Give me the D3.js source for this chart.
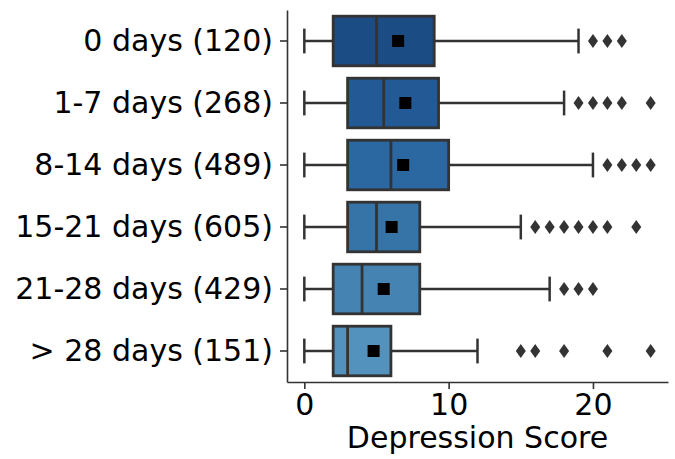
<!DOCTYPE html>
<html>
<head>
<meta charset="utf-8">
<script src="https://cdn.jsdelivr.net/npm/d3@7"></script>
<style>
  body { margin: 0; background: #fff; }
  text { font-family: "DejaVu Sans", sans-serif; fill: #000; }
</style>
</head>
<body>
<div id="chart"></div>
<script>
var categories = ["0 days (120)", "1-7 days (268)", "8-14 days (489)", "15-21 days (605)", "21-28 days (429)", "> 28 days (151)"];
var whiskerLow = [0, 0, 0, 0, 0, 0];
var q1 = [2, 3, 3, 3, 2, 2];
var medians = [5, 5.5, 6, 5, 4, 3];
var q3 = [9, 9.3, 10, 8, 8, 6];
var whiskerHigh = [19, 18, 20, 15, 17, 12];
var means = [6.5, 7.0, 6.85, 6.05, 5.5, 4.8];
var outliers = [
    [20, 21, 22],
    [19, 20, 21, 22, 24],
    [21, 22, 23, 24],
    [16, 17, 18, 19, 20, 21, 23],
    [18, 19, 20],
    [15, 16, 18, 21, 24]
];
var boxColors = ["#1c4c84", "#235a96", "#2b67a1", "#3674a8", "#4583b3", "#5292bd"];
var xTicks = [0, 10, 20];

var width = 675, height = 459;
var margin = {top: 10, right: 7, bottom: 77, left: 287};

var svg = d3.select("#chart").append("svg")
    .attr("width", width)
    .attr("height", height);

var x = d3.scaleLinear()
    .domain([-1.2, 25.2])
    .range([margin.left, width - margin.right]);

var y = d3.scaleBand()
    .domain(categories)
    .range([margin.top, height - margin.bottom])
    .paddingInner(0.2)
    .paddingOuter(0.1);

var stroke = "#333333";

// x axis
var xAxis = svg.append("g")
    .attr("transform", "translate(0," + (height - margin.bottom) + ")")
    .call(d3.axisBottom(x).tickValues(xTicks).tickSize(7).tickSizeOuter(0).tickPadding(5).tickFormat(d3.format("d")));
xAxis.selectAll("text").style("font-size", "30px").attr("dy", "0.71em");

// y axis
var yAxis = svg.append("g")
    .attr("transform", "translate(" + margin.left + ",0)")
    .call(d3.axisLeft(y).tickSize(7).tickSizeOuter(0).tickPadding(7));
yAxis.selectAll("text").style("font-size", "30px");

[xAxis, yAxis].forEach(function (g) {
    g.select(".domain").attr("stroke", stroke).attr("stroke-width", 1.6);
    g.selectAll(".tick line").attr("stroke", stroke).attr("stroke-width", 1.6);
});

svg.append("text")
    .attr("x", (margin.left + width - margin.right) / 2)
    .attr("y", 448)
    .attr("text-anchor", "middle")
    .style("font-size", "30px")
    .text("Depression Score");

var rows = categories.map(function (c, i) {
    return {cat: c, lo: whiskerLow[i], q1: q1[i], med: medians[i], q3: q3[i], hi: whiskerHigh[i], mean: means[i], out: outliers[i], color: boxColors[i]};
});

var bw = y.bandwidth();
var g = svg.selectAll(".box").data(rows).enter().append("g").attr("class", "box");

function cy(d) { return y(d.cat) + bw / 2; }

// whiskers
g.append("line")
    .attr("x1", function (d) { return x(d.lo); })
    .attr("x2", function (d) { return x(d.q1); })
    .attr("y1", cy).attr("y2", cy)
    .attr("stroke", stroke).attr("stroke-width", 2.5);
g.append("line")
    .attr("x1", function (d) { return x(d.q3); })
    .attr("x2", function (d) { return x(d.hi); })
    .attr("y1", cy).attr("y2", cy)
    .attr("stroke", stroke).attr("stroke-width", 2.5);

// caps
["lo", "hi"].forEach(function (k) {
    g.append("line")
        .attr("x1", function (d) { return x(d[k]); })
        .attr("x2", function (d) { return x(d[k]); })
        .attr("y1", function (d) { return cy(d) - bw / 4; })
        .attr("y2", function (d) { return cy(d) + bw / 4; })
        .attr("stroke", stroke).attr("stroke-width", 2.5);
});

// boxes
g.append("rect")
    .attr("x", function (d) { return x(d.q1); })
    .attr("y", function (d) { return y(d.cat); })
    .attr("width", function (d) { return x(d.q3) - x(d.q1); })
    .attr("height", bw)
    .attr("fill", function (d) { return d.color; })
    .attr("stroke", stroke).attr("stroke-width", 2.8);

// median
g.append("line")
    .attr("x1", function (d) { return x(d.med); })
    .attr("x2", function (d) { return x(d.med); })
    .attr("y1", function (d) { return y(d.cat); })
    .attr("y2", function (d) { return y(d.cat) + bw; })
    .attr("stroke", stroke).attr("stroke-width", 2.8);

// means
g.append("rect")
    .attr("x", function (d) { return x(d.mean) - 6; })
    .attr("y", function (d) { return cy(d) - 6; })
    .attr("width", 12).attr("height", 12)
    .attr("fill", "#000");

// outliers
g.each(function (d) {
    d3.select(this).selectAll(".flier").data(d.out).enter().append("path")
        .attr("class", "flier")
        .attr("d", function (v) {
            var px = x(v), py = cy(d);
            return "M" + px + "," + (py - 7) + "L" + (px + 5) + "," + py + "L" + px + "," + (py + 7) + "L" + (px - 5) + "," + py + "Z";
        })
        .attr("fill", stroke);
});
</script>
</body>
</html>
